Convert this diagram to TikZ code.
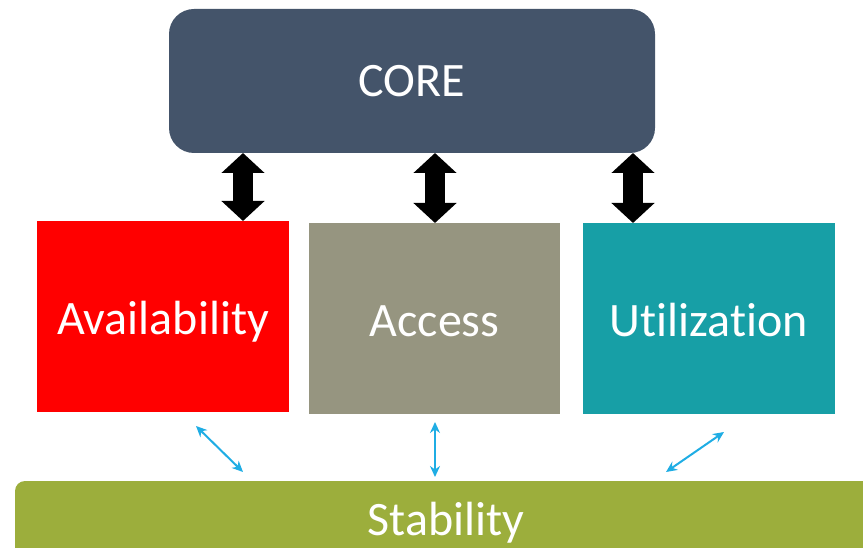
\documentclass[tikz,border=0pt]{standalone}
\usepackage{fontspec}
\setmainfont{Carlito}[Ligatures={NoCommon}]
\usetikzlibrary{arrows.meta}
\definecolor{coreblue}{RGB}{68,84,106}
\definecolor{availred}{RGB}{255,0,0}
\definecolor{accessgray}{RGB}{150,149,128}
\definecolor{utilteal}{RGB}{23,159,166}
\definecolor{stabgreen}{RGB}{156,174,60}
\definecolor{linkblue}{RGB}{31,173,228}
\begin{document}
\begin{tikzpicture}[x=1pt,y=-1pt,
  box/.style={rectangle,draw=none,anchor=north west,outer sep=0pt,inner sep=0pt,
    text=white,font=\fontsize{48}{52}\selectfont,text height=37pt,text depth=0pt},
  blockarrow/.style={line width=20pt,
    {Triangle[width=42pt,length=20pt]}-{Triangle[width=42pt,length=20pt]}},
  thinarrow/.style={draw=linkblue,line width=2pt,
    {Stealth[length=11pt,width=10pt]}-{Stealth[length=11pt,width=10pt]}}]
\useasboundingbox (0,0) rectangle (863,548);
\clip (0,0) rectangle (863,548);
\node[box,fill=coreblue,rounded corners=25pt,minimum width=486pt,minimum height=144pt,text height=32pt] (core) at (169,9) {CORE};
\node[box,fill=availred,minimum width=252pt,minimum height=191pt] (avail) at (37,221) {Availability};
\node[box,fill=accessgray,minimum width=251pt,minimum height=191pt] (access) at (309,223) {Access};
\node[box,fill=utilteal,minimum width=252pt,minimum height=191pt] (util) at (583,223) {Util\kern0pt ization};
\node[box,fill=stabgreen,rounded corners=10pt,minimum width=880pt,minimum height=77pt] (stab) at (15,481) {};
\node[text=white,font=\fontsize{48}{52}\selectfont,anchor=base,inner sep=0pt] (stabtext) at (446,535) {Stability};
% block arrows
\coordinate (x1) at (243,0);
\coordinate (x2) at (435,0);
\coordinate (x3) at (633,0);
\draw[blockarrow] (core.south -| x1) -- (avail.north -| x1);
\draw[blockarrow] (core.south -| x2) -- (access.north -| x2);
\draw[blockarrow] (core.south -| x3) -- (util.north -| x3);
% thin arrows
\coordinate (a1) at (196,426);
\coordinate (b1) at (243,472);
\coordinate (a2) at (435,422);
\coordinate (b2) at (435,477);
\coordinate (a3) at (724,432);
\coordinate (b3) at (666,472);
\draw[thinarrow] (a1) -- (b1);
\draw[thinarrow] (a2) -- (b2);
\draw[thinarrow] (a3) -- (b3);
\end{tikzpicture}
\end{document}
